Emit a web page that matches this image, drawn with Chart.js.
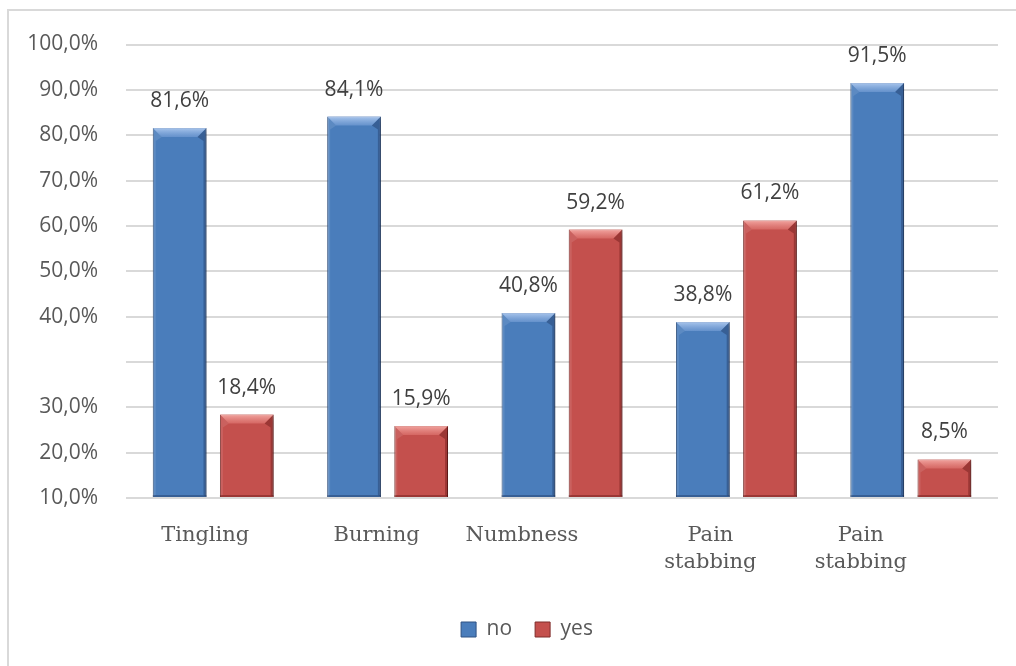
<!DOCTYPE html>
<html>
<head>
<meta charset="utf-8">
<script src="https://cdn.jsdelivr.net/npm/chart.js@4"></script>
<style>
  html, body { margin: 0; padding: 0; background: #fff; overflow: hidden; }
  #frame { position: absolute; left: 7px; top: 9px; width: 1100px; height: 700px; border: 2px solid #d9d9d9; }
  #wrap { position: absolute; left: 0; top: 0; width: 1016px; height: 666px; }
</style>
</head>
<body>
<div id="frame"></div>
<div id="wrap"><canvas id="chart"></canvas></div>
<script>
// Chart data
const categories = [['Tingling'], ['Burning'], ['Numbness'], ['Pain', 'stabbing'], ['Pain', 'stabbing']];
const seriesNames = ['no', 'yes'];
const noValues = [81.6, 84.1, 40.8, 38.8, 91.5];
const yesValues = [18.4, 15.9, 59.2, 61.2, 8.5];
// Tick labels as printed on the original axis (one per gridline, bottom to top)
const yTickLabels = ['10,0%', '20,0%', '30,0%', '', '40,0%', '50,0%', '60,0%', '70,0%', '80,0%', '90,0%', '100,0%'];

const labelFont = '"Open Sans", sans-serif';
const catFont = '"DejaVu Serif", serif';
// the category labels in the original sit a bit left of the bar groups
const catShift = [-8, -11, -40, -26, -50];

function fmt(v) {
  return v.toFixed(1).replace('.', ',') + '%';
}

// Bevel overlay on each bar, drop shadow under them
const bevelPlugin = {
  id: 'bevel',
  beforeDatasetsDraw(chart) {
    const ctx = chart.ctx;
    ctx.save();
    ctx.shadowColor = 'rgba(0,0,0,0.35)';
    ctx.shadowBlur = 6;
    ctx.shadowOffsetX = 2;
    ctx.shadowOffsetY = 2;
  },
  afterDatasetsDraw(chart) {
    const ctx = chart.ctx;
    ctx.restore();
    const tones = [
      { top: ['rgba(185,210,245,0.85)', 'rgba(120,160,215,0.6)'], side: 'rgba(255,255,255,0.1)', dark: 'rgba(20,40,80,0.35)' },
      { top: ['rgba(250,180,175,0.85)', 'rgba(225,120,115,0.6)'], side: 'rgba(255,255,255,0.1)', dark: 'rgba(80,10,10,0.35)' },
    ];
    chart.data.datasets.forEach((ds, di) => {
      const t = tones[di];
      chart.getDatasetMeta(di).data.forEach((bar) => {
        const l = bar.x - bar.width / 2;
        const r = bar.x + bar.width / 2;
        const top = bar.y;
        const bot = bar.base;
        const bev = Math.min(9, (bot - top) / 2);
        const side = 3;
        ctx.save();
        // top bevel, picture-frame corners
        const g = ctx.createLinearGradient(0, top, 0, top + bev);
        g.addColorStop(0, t.top[0]);
        g.addColorStop(1, t.top[1]);
        ctx.fillStyle = g;
        ctx.beginPath();
        ctx.moveTo(l, top);
        ctx.lineTo(r, top);
        ctx.lineTo(r - bev, top + bev);
        ctx.lineTo(l + bev, top + bev);
        ctx.closePath();
        ctx.fill();
        // left edge
        ctx.fillStyle = t.side;
        ctx.beginPath();
        ctx.moveTo(l, top);
        ctx.lineTo(l + bev, top + bev);
        ctx.lineTo(l + side, top + bev + 4);
        ctx.lineTo(l + side, bot - 2);
        ctx.lineTo(l, bot);
        ctx.closePath();
        ctx.fill();
        // right edge
        ctx.fillStyle = t.dark;
        ctx.beginPath();
        ctx.moveTo(r, top);
        ctx.lineTo(r - bev, top + bev);
        ctx.lineTo(r - side, top + bev + 4);
        ctx.lineTo(r - side, bot - 2);
        ctx.lineTo(r, bot);
        ctx.closePath();
        ctx.fill();
        // bottom edge
        ctx.fillRect(l, bot - 2, r - l, 2);
        ctx.restore();
      });
    });
  },
};

// Value labels above the bars and the category labels under the axis
const labelPlugin = {
  id: 'labels',
  afterLayout(chart) {
    // legend group sits right of centre in the original
    chart.legend.left += 24;
    chart.legend.right += 24;
  },
  afterDraw(chart) {
    const ctx = chart.ctx;
    ctx.save();
    ctx.textAlign = 'center';
    ctx.textBaseline = 'middle';
    ctx.font = '21px ' + labelFont;
    ctx.fillStyle = '#404040';
    chart.data.datasets.forEach((ds, di) => {
      chart.getDatasetMeta(di).data.forEach((bar, i) => {
        ctx.fillText(fmt(ds.data[i]), bar.x, bar.y - 27);
      });
    });

    const xScale = chart.scales.x;
    ctx.font = '21px ' + catFont;
    ctx.fillStyle = '#595959';
    categories.forEach((lines, i) => {
      const x = xScale.getPixelForValue(i) + catShift[i];
      lines.forEach((line, j) => {
        ctx.fillText(line, x, chart.chartArea.bottom + 38 + j * 27);
      });
    });
    ctx.restore();
  },
};

const chart = new Chart(document.getElementById('chart'), {
  type: 'bar',
  data: {
    labels: categories,
    datasets: [
      {
        label: seriesNames[0],
        data: noValues,
        backgroundColor: '#4a7dbb',
        borderColor: '#2f5283',
        borderWidth: 1,
        categoryPercentage: 0.77,
        barPercentage: 0.8,
      },
      {
        label: seriesNames[1],
        data: yesValues,
        backgroundColor: '#c4504d',
        borderColor: '#7f2d2a',
        borderWidth: 1,
        categoryPercentage: 0.77,
        barPercentage: 0.8,
      },
    ],
  },
  options: {
    responsive: true,
    maintainAspectRatio: false,
    animation: false,
    layout: { padding: { left: 8, right: 18, top: 44.5, bottom: 16 } },
    plugins: {
      tooltip: { enabled: false },
      legend: {
        position: 'bottom',
        labels: {
          boxWidth: 15,
          boxHeight: 15,
          padding: 23,
          color: '#595959',
          font: { family: labelFont, size: 21 },
        },
      },
    },
    scales: {
      x: {
        grid: { display: false },
        border: { display: false },
        ticks: { display: false },
        afterFit: (scale) => { scale.height = 98; },
      },
      y: {
        min: 0,
        max: 100,
        grid: { color: '#d9d9d9', lineWidth: 2, drawTicks: false },
        border: { display: false },
        ticks: {
          stepSize: 10,
          padding: 28,
          color: '#595959',
          font: { family: labelFont, size: 21 },
          callback: (v, i) => yTickLabels[i],
        },
        afterFit: (scale) => { scale.width = 118; },
      },
    },
  },
  plugins: [bevelPlugin, labelPlugin],
});
</script>
</body>
</html>
